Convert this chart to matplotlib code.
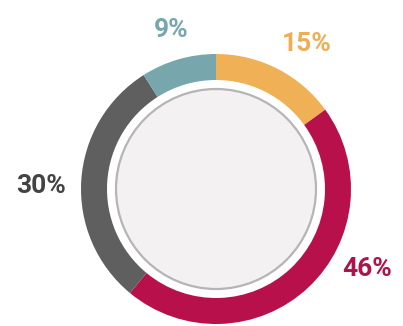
# Donut chart: four shares around a light grey centre disc
import matplotlib
matplotlib.use('Agg')
import matplotlib.pyplot as plt
from matplotlib.patches import Circle

etiquetas = ["15%", "46%", "30%", "9%"]
valores = [15, 46, 30, 9]
colores = ["#F0B055", "#B8104A", "#5F5F5F", "#77A6AC"]
colores_texto = ["#EDAE55", "#B0124A", "#434343", "#77A6AC"]

# label positions in pixel coords (y measured from the top)
pos_etiquetas = {
    "15%": (307, 44),
    "46%": (367, 269),
    "30%": (41, 186),
    "9%": (171, 30),
}

W, H = 403, 326
fig = plt.figure(figsize=(W / 100, H / 100), dpi=100)
ax = fig.add_axes([0, 0, 1, 1])

cx, cy = 216, H - 189
ax.pie(valores, colors=colores, startangle=90, counterclock=False,
       center=(cx, cy), radius=135, frame=True,
       wedgeprops=dict(width=26, linewidth=0))
ax.set_xlim(0, W)
ax.set_ylim(0, H)
ax.axis('off')

# inner disc with grey rim
ax.add_patch(Circle((cx, cy), 100, facecolor="#F3F1F2", edgecolor="#B5B5B5",
                    linewidth=1.6, zorder=3))

for texto, color in zip(etiquetas, colores_texto):
    x, y = pos_etiquetas[texto]
    ax.text(x, H - y, texto, color=color, fontsize=19, fontweight='bold',
            family='Roboto', ha='center', va='center')

fig.savefig("out.png", dpi=100)
